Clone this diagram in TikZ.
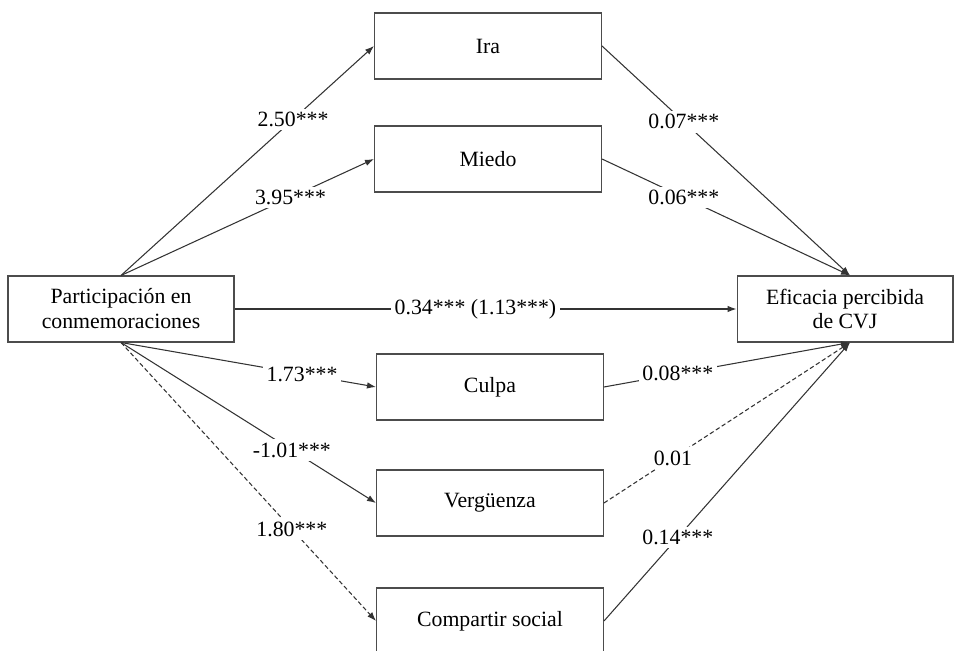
\documentclass[tikz,border=0pt]{standalone}
\usepackage{fontspec}
\setmainfont{Liberation Serif}
\usetikzlibrary{arrows.meta}

\begin{document}
\begin{tikzpicture}[x=0.02cm, y=-0.02cm, line width=0.6pt,
  caja/.style={draw=black!70, fill=white, minimum width=4.54cm, minimum height=1.32cm,
    align=center, font=\fontsize{12.4}{14.2}\selectfont},
  flecha/.style={draw=black!80, -{Latex[length=1.8mm,width=1.3mm]}},
  coef/.style={fill=white, inner sep=2pt, font=\fontsize{12.4}{14.2}\selectfont},
  nosig/.style={dash pattern=on 2.5pt off 1.5pt}]
\useasboundingbox (0,0) rectangle (954,651);
\node[caja, minimum width=4.52cm] (part) at (121,309) {Participación en\\conmemoraciones};
\node[caja, minimum width=4.32cm] (efic) at (845,309) {Eficacia percibida\\de CVJ};
\node[caja] (ira) at (488,46) {Ira};
\node[caja] (miedo) at (488,159) {Miedo};
\node[caja] (culpa) at (490,387) {Culpa};
\node[caja] (verg) at (490,503) {Vergüenza};
\node[caja] (comp) at (490,621) {Compartir social};
\coordinate (arriba) at ([xshift=0.1cm]efic.north);
\coordinate (abajo) at ([xshift=0.1cm]efic.south);

\draw[flecha] (part.north) -- node[coef, pos=0.68] (a1) {2.50***} (ira.west);
\draw[flecha] (part.north) -- node[coef, pos=0.67] (a2) {3.95***} (miedo.west);
\draw[flecha] (part.south) -- node[coef, pos=0.71] (a3) {1.73***} (culpa.west);
\draw[flecha] (part.south) -- node[coef, pos=0.67] (a4) {-1.01***} (verg.west);
\draw[flecha, nosig] (part.south) -- node[coef, pos=0.67] (a5) {1.80***} (comp.west);

\draw[flecha] (part.east) -- node[coef, pos=0.48] (c) {0.34*** (1.13***)} (efic.west);

\draw[flecha] (ira.east) -- node[coef, pos=0.33] (b1) {0.07***} (arriba);
\draw[flecha] (miedo.east) -- node[coef, pos=0.33] (b2) {0.06***} (arriba);
\draw[flecha] (culpa.east) -- node[coef, pos=0.30] (b3) {0.08***} (abajo);
\draw[flecha, nosig] (verg.east) -- node[coef, pos=0.28] (b4) {0.01} (abajo);
\draw[flecha] (comp.east) -- node[coef, pos=0.30] (b5) {0.14***} (abajo);
\end{tikzpicture}
\end{document}
